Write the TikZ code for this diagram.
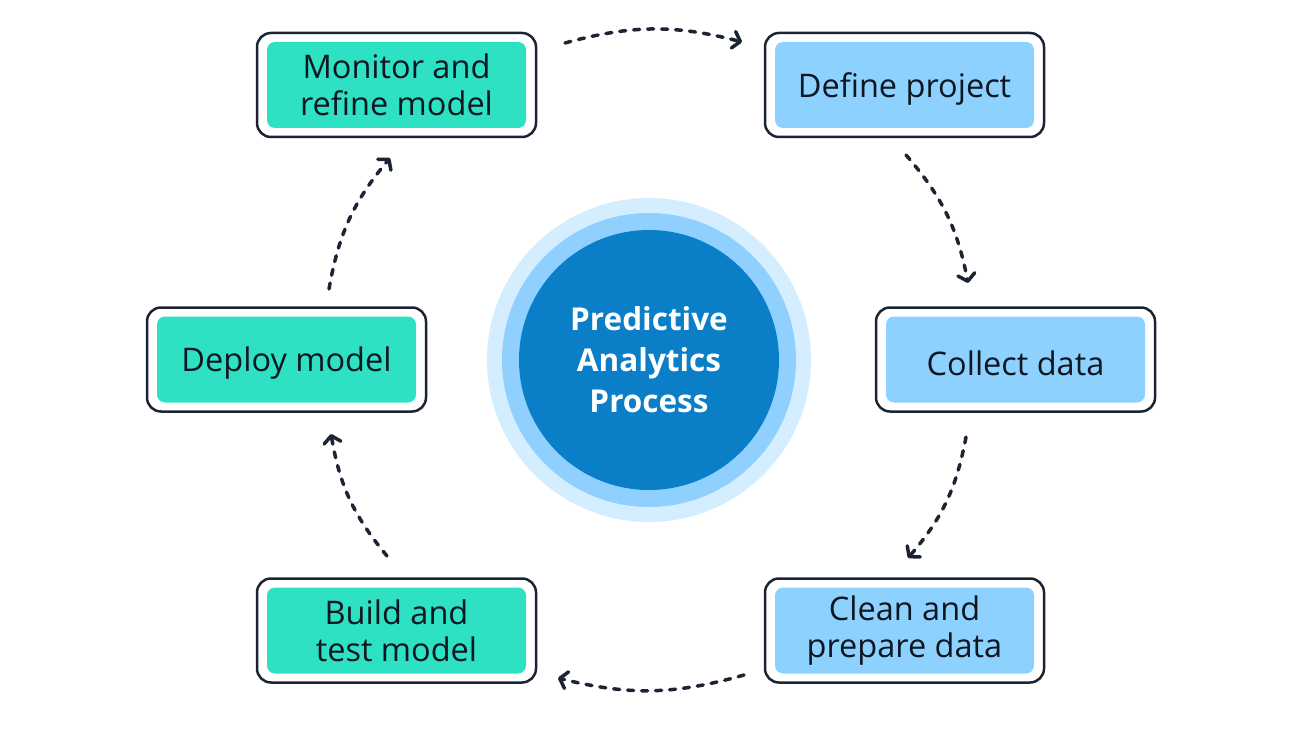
\documentclass[tikz,border=0pt]{standalone}
\usepackage{fontspec}
\setmainfont{Open Sans}
\usetikzlibrary{arrows.meta}
\definecolor{ink}{HTML}{1C2433}
\definecolor{tealbox}{HTML}{2DE1C2}
\definecolor{bluebox}{HTML}{8DD2FF}
\definecolor{ringA}{HTML}{D4EEFF}
\definecolor{ringB}{HTML}{90D0FF}
\definecolor{core}{HTML}{0A7FC8}
\definecolor{txt}{HTML}{0E1620}
\newcommand{\oneline}[1]{\raisebox{-3.5pt}[\height][\depth]{#1}}
\begin{document}
\begin{tikzpicture}[x=1pt,y=-1pt,
  frame/.style={draw=ink, fill=white, line width=2.5pt, rounded corners=14pt,
    minimum width=279pt, minimum height=104pt, inner sep=0pt},
  stepbox/.style={rounded corners=8pt, minimum width=259pt, minimum height=86pt,
    inner sep=0pt, align=center, text=txt, font=\fontsize{32.5}{37}\selectfont},
  flow/.style={draw=ink, line width=3.5pt, dash pattern=on 6pt off 8pt, line cap=round,
    -{Straight Barb[length=7pt,width=17pt,line cap=round,line join=round]}, bend left=15}
]
\useasboundingbox (0,0) rectangle (1298,730);
\fill[white] (0,0) rectangle (1298,730);

% center circle
\fill[ringA] (649,360) circle (162pt);
\fill[ringB] (649,360) circle (147pt);
\node[circle, fill=core, minimum size=260pt, inner sep=0pt, text=white, align=center,
  font=\bfseries\fontsize{31.5}{41}\selectfont] (hub) at (649,360) {Predictive\\Analytics\\Process};

% boxes
\node[frame] (monF) at (396.5,85) {};
\node[stepbox, fill=tealbox] (mon) at (monF) {Monitor and\\refine model};
\node[frame] (defF) at (904.5,85) {};
\node[stepbox, fill=bluebox] (def) at (defF) {\oneline{Define project}};
\node[frame] (colF) at (1015.5,359.5) {};
\node[stepbox, fill=bluebox] (col) at (colF) {\oneline{Collect data}};
\node[frame] (cleF) at (904.5,630.5) {};
\node[stepbox, fill=bluebox] (cle) at (cleF) {Clean and\\prepare data};
\node[frame] (buiF) at (396.5,630.5) {};
\node[stepbox, fill=tealbox] (bui) at (buiF) {Build and\\test model};
\node[frame] (depF) at (286.5,359.5) {};
\node[stepbox, fill=tealbox] (dep) at (depF) {\oneline{Deploy model}};

% connector end points
\coordinate (a1s) at (565,43);  \coordinate (a1e) at (742,42);
\coordinate (a2s) at (906,155); \coordinate (a2e) at (968,283);
\coordinate (a3s) at (966,437); \coordinate (a3e) at (908,558);
\coordinate (a4s) at (744,675); \coordinate (a4e) at (558,678);
\coordinate (a5s) at (387,556); \coordinate (a5e) at (331,434);
\coordinate (a6s) at (329,289); \coordinate (a6e) at (390,158);

\draw[flow] (a1s) to (a1e);
\draw[flow] (a2s) to (a2e);
\draw[flow] (a3s) to (a3e);
\draw[flow] (a4s) to (a4e);
\draw[flow] (a5s) to (a5e);
\draw[flow] (a6s) to (a6e);
\end{tikzpicture}
\end{document}
